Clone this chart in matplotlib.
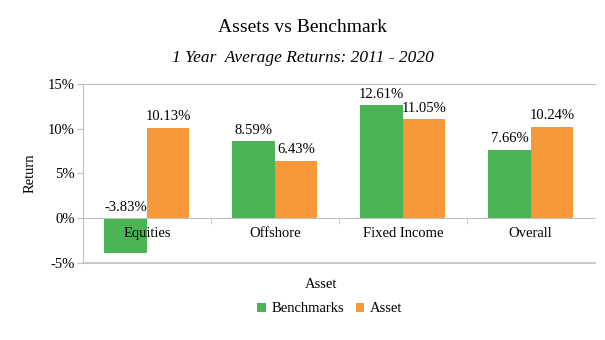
import numpy as np
import matplotlib
matplotlib.use('Agg')
import matplotlib.pyplot as plt
from matplotlib.ticker import FuncFormatter

plt.rcParams['font.family'] = ['Liberation Serif', 'DejaVu Serif']

# datos
categorias = ['Equities', 'Offshore', 'Fixed Income', 'Overall']
benchmarks = [-3.83, 8.59, 12.61, 7.66]
asset = [10.13, 6.43, 11.05, 10.24]
yticks = [-5, 0, 5, 10, 15]

verde = '#4BB556'
naranja = '#F7993A'
gris = '#BFBFBF'

fig = plt.figure(figsize=(6.05, 3.4), dpi=100)
ax = fig.add_axes([0.137, 0.2265, 0.846, 0.5265])

x = np.arange(len(categorias))
w = 0.332
b1 = ax.bar(x - w/2, benchmarks, w, color=verde, label='Benchmarks')
b2 = ax.bar(x + w/2, asset, w, color=naranja, label='Asset')

# etiquetas de valores
for serie, desp in ((benchmarks, -w/2), (asset, w/2)):
  for i, v in enumerate(serie):
    ax.text(i + desp, max(v, 0) + 0.5, '%.2f%%' % v, ha='center', va='bottom', fontsize=10.5)

ax.set_xlim(-0.5, len(categorias) - 0.5)
ax.set_ylim(-5, 15)
ax.set_yticks(yticks)
ax.yaxis.set_major_formatter(FuncFormatter(lambda v, p: '%d%%' % v))

# eje x en el cero
ax.spines['bottom'].set_position(('data', 0))
ax.spines['right'].set_visible(False)
for s in ('bottom', 'left', 'top'):
  ax.spines[s].set_color(gris)
ax.axhline(-5, color=gris, linewidth=1.2, clip_on=False)
ax.set_xticks(x)
ax.set_xticklabels(categorias, fontsize=10.5)
ax.set_xticks(np.arange(0.5, len(categorias) - 1, 1), minor=True)
ax.tick_params(axis='x', which='major', length=0, pad=6)
ax.tick_params(axis='x', which='minor', length=4, color=gris)
ax.tick_params(axis='y', length=4, color=gris, labelsize=10.5, pad=2)

ax.set_ylabel('Return', fontsize=10.5, labelpad=8)
fig.text(0.531, 1 - 285/340, 'Asset', ha='center', va='center', fontsize=10.5)

fig.text(0.5, 1 - 27/340, 'Assets vs Benchmark', ha='center', va='center', fontsize=14)
fig.text(0.5, 1 - 58/340, '1 Year  Average Returns: 2011 - 2020', ha='center', va='center',
         fontsize=12.5, style='italic')

fig.legend(handles=[b1, b2], loc='center', bbox_to_anchor=(0.545, 1 - 309/340), ncol=2,
           frameon=False, fontsize=10.5, handlelength=0.6, handleheight=0.6,
           handletextpad=0.4, columnspacing=0.8)

fig.savefig('out.png', dpi=100)
